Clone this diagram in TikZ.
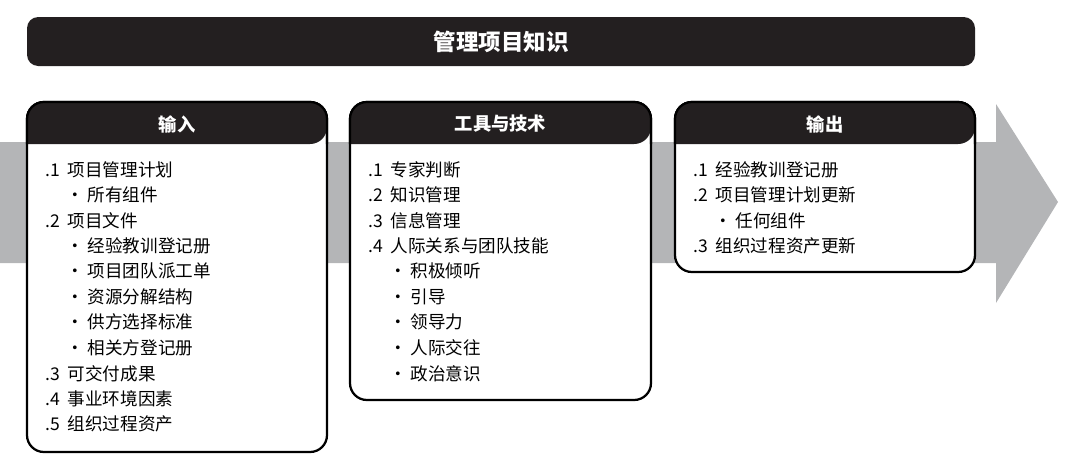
\documentclass[tikz,border=0pt]{standalone}
\usepackage{fontspec}
\setmainfont{Noto Sans CJK SC}
\usetikzlibrary{positioning}
\definecolor{bandgray}{HTML}{B4B5B7}
\definecolor{hdblack}{HTML}{231F20}
\tikzset{
  panel/.style={draw=black, line width=1.6pt, fill=white, rounded corners=12pt},
  header/.style={text=white, font=\bfseries\fontsize{13}{15}\selectfont},
  item/.style={anchor=west, inner sep=0pt, font=\fontsize{12.5}{14}\selectfont},
}
\begin{document}
\begin{tikzpicture}[x=0.025cm, y=-0.025cm]
\useasboundingbox (0,0) rectangle (1080,468);
% arrow in the back
\fill[bandgray] (0,142) -- (996,142) -- (996,104) -- (1058,202)
        -- (996,303) -- (996,263) -- (0,263) -- cycle;
% title bar
\fill[hdblack, rounded corners=8pt] (27,17) rectangle (975,66);
\node[text=white, font=\bfseries\fontsize{16}{18}\selectfont] (title) at (501,42) {管理项目知识};

% three boxes
\foreach \name/\xa/\xb/\yb/\head in {in/27/327/452/输入, tt/350/651/400/工具与技术, out/675/975/272/输出}{
  \draw[panel] (\xa,102) rectangle (\xb,\yb);
  \fill[hdblack, rounded corners=12pt] (\xa,144) -- (\xa,102) -- (\xb,102) -- (\xb,144) [sharp corners] -- cycle;
  \draw[line width=1.6pt, rounded corners=12pt] (\xa,144) -- (\xa,102) -- (\xb,102) -- (\xb,144);
  \node[header] (\name) at ({(\xa+\xb)/2},124) {\head};
}

% inputs
\node[item] (in1) at (45,170) {.1\ \ 项目管理计划};
\node[item] (in1a) at (66,195) {•\ 所有组件};
\node[item] (in2) at (45,221) {.2\ \ 项目文件};
\node[item] (in2a) at (66,246) {•\ 经验教训登记册};
\node[item] (in2b) at (66,271) {•\ 项目团队派工单};
\node[item] (in2c) at (66,297) {•\ 资源分解结构};
\node[item] (in2d) at (66,322) {•\ 供方选择标准};
\node[item] (in2e) at (66,348) {•\ 相关方登记册};
\node[item] (in3) at (45,374) {.3\ \ 可交付成果};
\node[item] (in4) at (45,399) {.4\ \ 事业环境因素};
\node[item] (in5) at (45,424) {.5\ \ 组织过程资产};

% tools and techniques
\node[item] (tt1) at (368,170) {.1\ \ 专家判断};
\node[item] (tt2) at (368,195) {.2\ \ 知识管理};
\node[item] (tt3) at (368,221) {.3\ \ 信息管理};
\node[item] (tt4) at (368,246) {.4\ \ 人际关系与团队技能};
\node[item] (tt4a) at (389,271) {•\ 积极倾听};
\node[item] (tt4b) at (389,297) {•\ 引导};
\node[item] (tt4c) at (389,322) {•\ 领导力};
\node[item] (tt4d) at (389,348) {•\ 人际交往};
\node[item] (tt4e) at (389,374) {•\ 政治意识};

% outputs
\node[item] (out1) at (693,170) {.1\ \ 经验教训登记册};
\node[item] (out2) at (693,195) {.2\ \ 项目管理计划更新};
\node[item] (out2a) at (714,221) {•\ 任何组件};
\node[item] (out3) at (693,246) {.3\ \ 组织过程资产更新};
\end{tikzpicture}
\end{document}
